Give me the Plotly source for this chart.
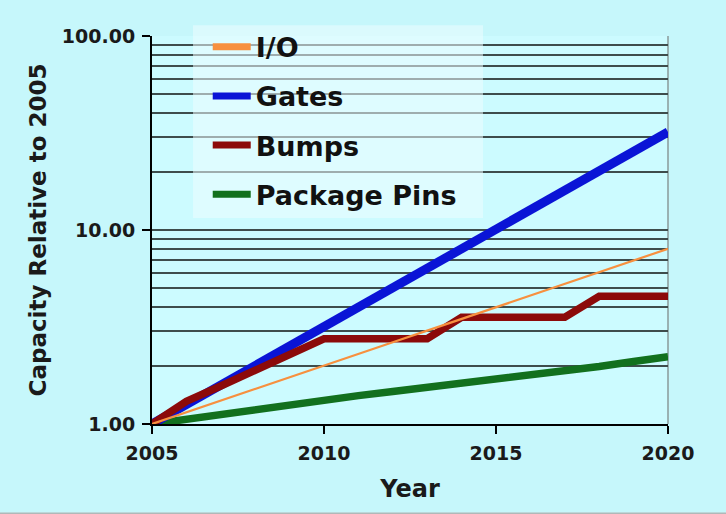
import plotly.graph_objects as go

years = list(range(2005, 2021))
io_vals = [1.00, 1.15, 1.32, 1.52, 1.74, 2.00, 2.30, 2.64, 3.03, 3.48, 4.00, 4.59, 5.28, 6.06, 6.96, 8.00]
gates_vals = [1.00, 1.26, 1.59, 2.00, 2.52, 3.17, 4.00, 5.04, 6.35, 8.00, 10.1, 12.7, 16.0, 20.2, 25.4, 32.0]
bumps_vals = [1.00, 1.31, 1.57, 1.88, 2.28, 2.75, 2.75, 2.75, 2.75, 3.55, 3.55, 3.55, 3.55, 4.55, 4.55, 4.55]
pins_vals = [1.00, 1.06, 1.12, 1.18, 1.26, 1.33, 1.40, 1.47, 1.54, 1.62, 1.72, 1.80, 1.88, 1.98, 2.10, 2.22]

series_names = ["I/O", "Gates", "Bumps", "Package Pins"]
colors = {"I/O": "#F7903F", "Gates": "#0A14D6", "Bumps": "#8C0A0A", "Package Pins": "#12701E"}
widths = {"I/O": 2.2, "Gates": 9, "Bumps": 7.5, "Package Pins": 7.5}
data = {"I/O": io_vals, "Gates": gates_vals, "Bumps": bumps_vals, "Package Pins": pins_vals}

major_ticks = [1, 10, 100]
minor_ticks = [2, 3, 4, 5, 6, 7, 8, 9, 20, 30, 40, 50, 60, 70, 80, 90]
x_ticks = [2005, 2010, 2015, 2020]

fig = go.Figure()
# drawing order: green, blue, red, orange
for name in ["Package Pins", "Gates", "Bumps", "I/O"]:
    fig.add_trace(go.Scatter(x=years, y=data[name], mode="lines", name=name,
                             line=dict(color=colors[name], width=widths[name]),
                             showlegend=False, hoverinfo="skip"))
# legend entries
for i, name in enumerate(series_names):
    fig.add_trace(go.Scatter(x=[None], y=[None], mode="lines", name=name,
                             line=dict(color=colors[name], width=7),
                             legendgroup=f"g{i}", showlegend=True))

txt = "#1a1a1a"
fig.update_layout(
    width=726, height=514,
    margin=dict(l=152, r=58, t=36, b=90),
    paper_bgcolor="#C6F7FB",
    plot_bgcolor="#CCFBFF",
    font=dict(family="DejaVu Sans", color=txt, weight="bold"),
    showlegend=True,
    legend=dict(x=0.108, y=1.034, xanchor="left", yanchor="top",
                bgcolor="rgba(0,0,0,0)", borderwidth=0,
                font=dict(size=27, family="DejaVu Sans", color="#111", weight="bold"),
                tracegroupgap=11, traceorder="grouped", itemwidth=38),
    xaxis=dict(range=[2005, 2020], tickvals=x_ticks, showgrid=False,
               showline=True, linecolor="black", linewidth=2,
               ticks="outside", ticklen=8, tickwidth=2, tickcolor="black",
               ticklabelstandoff=3,
               tickfont=dict(size=19, family="DejaVu Sans", color=txt, weight="bold"),
               title=dict(text="Year", standoff=17,
                          font=dict(size=24, family="DejaVu Sans", color=txt, weight="bold")),
               zeroline=False),
    yaxis=dict(type="log", range=[0, 2], tickvals=major_ticks, tickformat=".2f",
               showgrid=True, gridcolor="#3E4C4C", gridwidth=2,
               minor=dict(tickvals=minor_ticks, showgrid=True, gridcolor="#3E4C4C", gridwidth=2, ticks=""),
               showline=True, linecolor="black", linewidth=2,
               ticks="outside", ticklen=8, tickwidth=2, tickcolor="black",
               ticklabelstandoff=3,
               tickfont=dict(size=19, family="DejaVu Sans", color=txt, weight="bold"),
               title=dict(text="Capacity Relative to 2005", standoff=9,
                          font=dict(size=23, family="DejaVu Sans", color=txt, weight="bold")),
               zeroline=False),
    shapes=[dict(type="line", xref="x domain", yref="y domain", x0=1, x1=1, y0=0, y1=1,
                 line=dict(color="#8A9A9A", width=1.5), layer="below"),
            dict(type="rect", xref="x domain", yref="y domain", x0=0.0795, x1=0.6415, y0=0.531, y1=1.028,
                 fillcolor="rgba(236,253,255,0.55)", line=dict(width=0), layer="above"),
            dict(type="line", xref="paper", yref="paper", x0=-0.3, x1=1.2, y0=-0.232, y1=-0.232,
                 line=dict(color="#B0B8B8", width=3))],
)

fig.write_html("out.html")
